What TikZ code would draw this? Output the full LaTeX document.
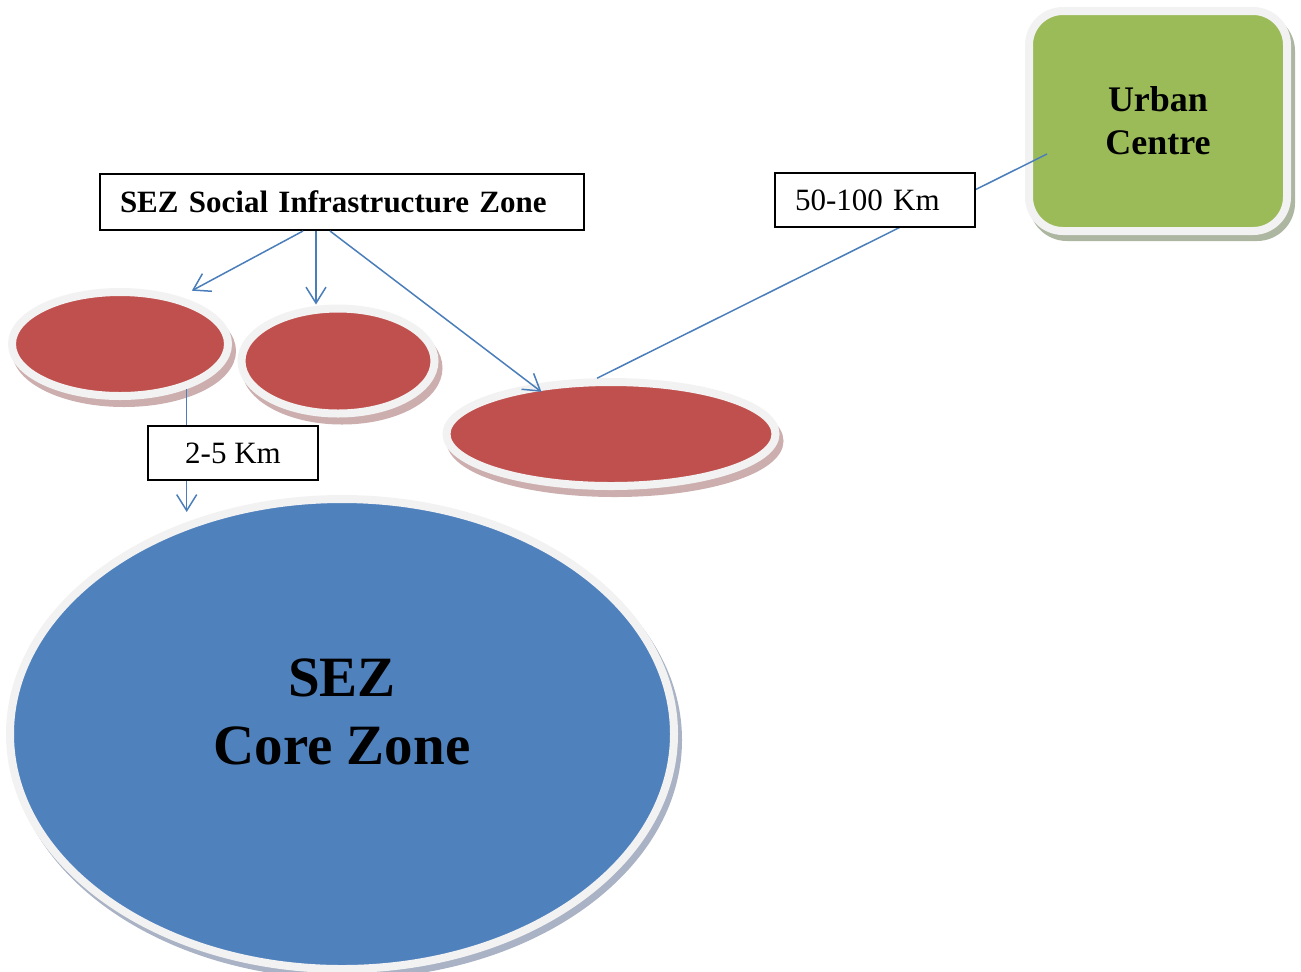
\documentclass[tikz,border=0pt]{standalone}
\usepackage{fontspec}
\setmainfont{Liberation Serif}
\usetikzlibrary{shapes.geometric, shadows, arrows.meta}
\definecolor{coreblue}{HTML}{4F81BD}
\definecolor{zonered}{HTML}{C0504D}
\definecolor{urbangreen}{HTML}{9BBB59}
\definecolor{rimgray}{HTML}{F2F2F2}
\definecolor{linkblue}{HTML}{4A7EBB}
\definecolor{shadered}{HTML}{CDAEAE}
\definecolor{shadeblue}{HTML}{A9B3C5}
\definecolor{shadegreen}{HTML}{ADB6A0}

\begin{document}
\begin{tikzpicture}[x=0.5pt,y=-0.5pt,>={Straight Barb[length=8pt,width=10pt]}]
    \tikzstyle{social}=[ellipse,draw=rimgray,fill=zonered,line width=4pt,inner sep=0pt,
        drop shadow={shadow xshift=2pt,shadow yshift=-3.5pt,opacity=1,fill=shadered,draw=shadered,line width=4pt}]
    \tikzstyle{core}=[ellipse,draw=rimgray,fill=coreblue,line width=4pt,inner sep=0pt,
        drop shadow={shadow xshift=2pt,shadow yshift=-3pt,opacity=1,fill=shadeblue,draw=shadeblue,line width=4pt},
        font=\fontsize{28.5}{34}\selectfont\bfseries,align=center,text depth=22pt]
    \tikzstyle{urban}=[rectangle,rounded corners=17pt,draw=rimgray,fill=urbangreen,line width=4pt,
        drop shadow={shadow xshift=2pt,shadow yshift=-3pt,opacity=1,fill=shadegreen,draw=shadegreen,line width=4pt},
        font=\fontsize{18}{21.5}\selectfont\bfseries,align=center]
    \tikzstyle{tag}=[rectangle,draw,fill=white,line width=1pt,inner xsep=10pt,inner ysep=0pt,
        font=\fontsize{15.5}{18}\selectfont]
    \tikzstyle{link}=[color=linkblue,line width=0.75pt]

    \useasboundingbox (0,0) rectangle (1301,971);

    \node[social,minimum width=108pt,minimum height=52pt] (soc1) at (120,344) {};
    \node[social,minimum width=96.5pt,minimum height=52.5pt] (soc2) at (338,361) {};
    \node[social,minimum width=164.5pt,minimum height=52pt] (soc3) at (611,434) {};
    \node[core,minimum width=332pt,minimum height=235pt] (core) at (342,734) {SEZ\\Core Zone};
    \node[urban,minimum width=129pt,minimum height=110pt] (urban) at (1158,121) {Urban\\Centre};

    \node[tag,text width=222pt,minimum height=28pt,font=\fontsize{15.5}{18}\selectfont\bfseries] (infra) at (342,202) {SEZ Social Infrastructure Zone};

    \coordinate (d1end) at (187,512);
    \coordinate (uend) at (1047,154);

    \path[->,link]
    ([xshift=-19.5pt]infra.south) edge[shorten >=6.5pt] (soc1.38)
    ([xshift=-13pt]infra.south) edge ([xshift=-13pt]infra.south |- soc2.north)
    ([xshift=-6pt]infra.south) edge[shorten >=-6pt] (soc3.148)
    (soc1.-34) edge (soc1.-34 |- d1end)
    ;
    \draw[link] (soc3.104) -- (uend);

    \node[tag,text width=80pt,minimum height=27pt] (far) at (875,200) {50-100 Km};
    \node[tag,minimum width=85pt,minimum height=27pt] (near) at (233,453) {2-5 Km};

  \end{tikzpicture}
\end{document}
